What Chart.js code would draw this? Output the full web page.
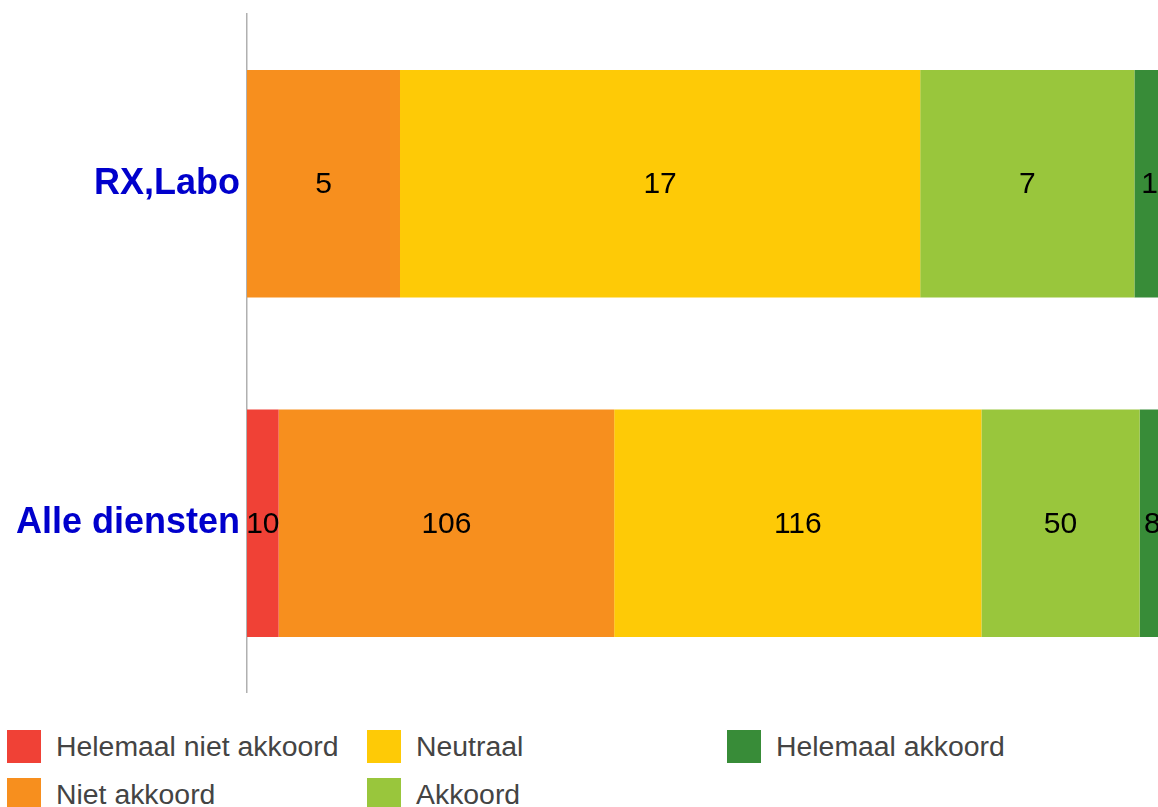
<!DOCTYPE html>
<html>
<head>
<meta charset="utf-8">
<script src="https://cdn.jsdelivr.net/npm/chart.js@4"></script>
<style>
  html, body { margin: 0; padding: 0; background: #fff; overflow: hidden; }
  body { width: 1158px; height: 807px; position: relative; font-family: "Liberation Sans", Arial, sans-serif; }
  #chart-box { position: absolute; left: 0; top: 0; }
  .legend-item { position: absolute; height: 33px; }
  .legend-item .swatch { position: absolute; left: 0; top: 0; width: 34px; height: 33px; }
  .legend-item .text { position: absolute; left: 49px; top: 0; line-height: 33px; font-size: 28.4px; color: #444; white-space: nowrap; }
</style>
</head>
<body>
<div id="chart-box"><canvas id="bar-chart" width="1165" height="693"></canvas></div>
<div id="legend"></div>
<script>
var categories = ["RX,Labo", "Alle diensten"];
var series_names = ["Helemaal niet akkoord", "Niet akkoord", "Neutraal", "Akkoord", "Helemaal akkoord"];
var helemaal_niet = [0, 10];
var niet_akkoord = [5, 106];
var neutraal = [17, 116];
var akkoord = [7, 50];
var helemaal_akkoord = [1, 8];

var colors = ["#F04136", "#F78F1E", "#FECA06", "#99C63C", "#388C38"];
var all_series = [helemaal_niet, niet_akkoord, neutraal, akkoord, helemaal_akkoord];

// totals per category, bars are shown as share of 100%
var totals = categories.map((c, i) => all_series.reduce((s, arr) => s + arr[i], 0));

var datasets = all_series.map((arr, k) => ({
  label: series_names[k],
  data: arr.map((v, i) => (v / totals[i]) * 100),
  counts: arr,
  backgroundColor: colors[k],
  borderWidth: 0,
  categoryPercentage: 1,
  barPercentage: 0.67,
}));

// draw the raw counts in the middle of each segment
const count_labels = {
  id: "countLabels",
  afterDatasetsDraw(chart) {
    const ctx = chart.ctx;
    ctx.save();
    ctx.font = "30px 'Liberation Sans', Arial, sans-serif";
    ctx.fillStyle = "#000";
    ctx.textAlign = "center";
    ctx.textBaseline = "middle";
    chart.data.datasets.forEach((ds, di) => {
      const meta = chart.getDatasetMeta(di);
      meta.data.forEach((bar, i) => {
        const v = ds.counts[i];
        if (!v) return;
        ctx.fillText(String(v), (bar.x + bar.base) / 2, bar.y + 1);
      });
    });
    ctx.restore();
  },
};

new Chart(document.getElementById("bar-chart"), {
  type: "bar",
  data: { labels: categories, datasets: datasets },
  options: {
    indexAxis: "y",
    responsive: false,
    animation: false,
    layout: { padding: { top: 14, bottom: 0, left: 0, right: 0 } },
    plugins: { legend: { display: false }, tooltip: { enabled: false } },
    scales: {
      x: { stacked: true, min: 0, max: 100, display: false },
      y: {
        stacked: true,
        grid: { display: true, drawOnChartArea: false, drawTicks: false },
        border: { display: true, color: "#b0b0b0", width: 1.5 },
        ticks: {
          padding: 7,
          color: "#0000CC",
          font: { family: "'Liberation Sans', Arial, sans-serif", size: 36, weight: "bold" },
        },
        afterFit(scale) {
          scale.width = 247;
          scale.paddingTop = 0;
          scale.paddingBottom = 0;
        },
      },
    },
  },
  plugins: [count_labels],
});

// legend laid out column by column, like the original
var legend_pos = [
  [7, 730], [7, 778], [367, 730], [367, 778], [727, 730],
];
var legend_el = document.getElementById("legend");
series_names.forEach((name, k) => {
  var item = document.createElement("div");
  item.className = "legend-item";
  item.style.left = legend_pos[k][0] + "px";
  item.style.top = legend_pos[k][1] + "px";
  item.innerHTML = '<div class="swatch" style="background:' + colors[k] + '"></div><div class="text">' + name + "</div>";
  legend_el.appendChild(item);
});
</script>
</body>
</html>
